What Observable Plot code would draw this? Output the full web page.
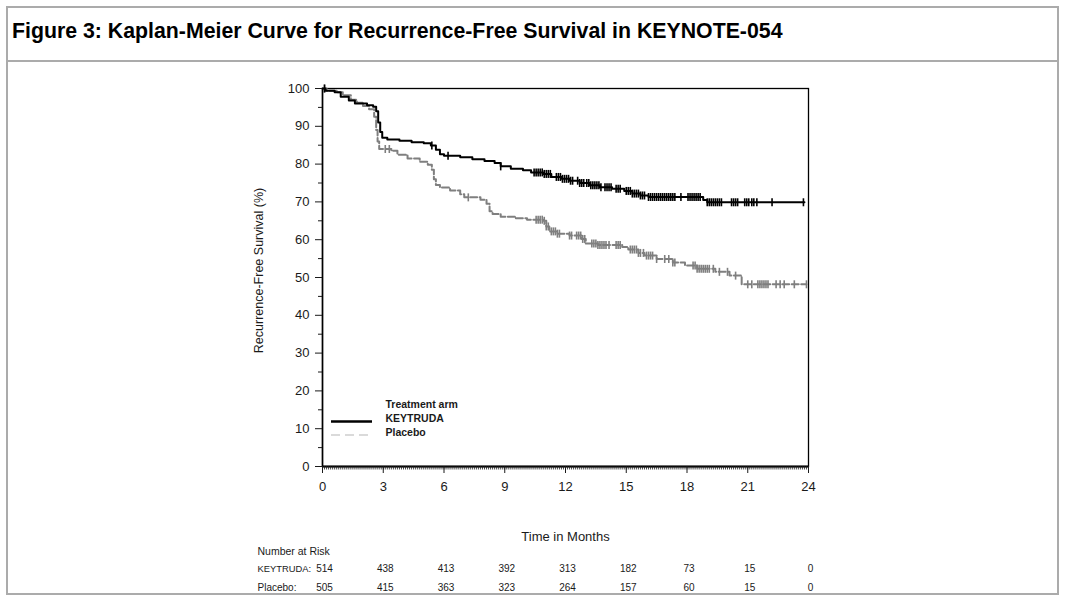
<!DOCTYPE html>
<html><head><meta charset="utf-8">
<script src="https://cdn.jsdelivr.net/npm/d3@7"></script>
<script src="https://cdn.jsdelivr.net/npm/@observablehq/plot@0.6"></script>
<style>
body{margin:0;width:1066px;height:596px;position:relative;background:#fff;font-family:"Liberation Sans",Arial,sans-serif;overflow:hidden}
#box{position:absolute;left:6px;top:6px;width:1053px;height:589px;border:2px solid #ababab;box-sizing:border-box}
#title{position:absolute;left:6px;top:6px;width:1053px;height:56px;border-bottom:2px solid #ababab;box-sizing:border-box;font-weight:bold;font-size:21.3px;padding:13px 0 0 6px;color:#000;white-space:nowrap}
#chart{position:absolute;left:0;top:60px}
#legend{position:absolute;left:0;top:0;pointer-events:none}
</style></head>
<body>
<div id="box"></div>
<div id="title">Figure 3: Kaplan-Meier Curve for Recurrence-Free Survival in KEYNOTE-054</div>
<div id="chart"></div>
<svg id="legend" width="1066" height="596">
  <line x1="331" x2="372" y1="421.5" y2="421.5" stroke="#000" stroke-width="2.6"/>
  <line x1="331" x2="372" y1="435" y2="435" stroke="#b5b5b5" stroke-width="1" stroke-dasharray="9,5"/>
</svg>
<script>
// ---- data ----
const keytrudaTimes = [0,0.15,0.6,0.9,1.3,1.6,2.2,2.5,2.65,2.75,2.85,2.95,3.2,3.8,4.4,5.0,5.35,5.6,5.8,6.0,6.8,7.4,8.0,8.5,8.8,9.3,9.9,10.3,10.9,11.3,11.8,12.2,12.7,13.2,13.7,14.3,14.9,15.3,15.7,16.1,18.8,19.0,23.8];
const keytrudaSurv  = [100,99.4,99.0,97.8,96.8,96.0,95.6,95.2,94.0,91.0,88.5,87.0,86.5,86.2,85.8,85.5,84.9,83.8,82.6,82.2,81.8,81.3,80.8,80.3,79.4,78.8,78.4,77.8,77.4,76.6,76.1,75.6,75.0,74.4,73.9,73.5,72.9,72.2,71.7,71.3,70.5,69.9,69.9];
const placeboTimes = [0,0.2,0.7,1.0,1.4,1.7,2.0,2.3,2.55,2.65,2.72,2.8,3.4,3.7,4.2,4.8,5.2,5.4,5.5,5.6,5.8,6.3,6.8,7.0,7.8,8.1,8.25,8.4,8.8,9.5,10.1,10.9,11.05,11.2,11.6,12.2,12.8,13.0,13.6,14.8,15.1,15.6,15.9,16.5,17.3,17.9,18.5,19.4,20.1,20.7,23.9];
const placeboSurv  = [100,99.4,99.0,98.2,97.0,96.2,95.4,94.5,92.5,89.0,86.0,84.0,83.5,82.5,81.5,80.6,79.8,78.5,76.0,74.5,73.8,73.0,72.0,71.2,70.6,69.5,67.5,66.8,66.1,65.7,65.3,65.0,63.5,62.2,61.6,61.1,60.2,59.0,58.6,58.1,57.4,56.5,55.8,54.9,54.0,53.2,52.3,51.5,50.5,48.2,48.2];
const keytrudaCensor = [0.1,5.4,6.2,8.8,10.45,10.55,10.65,10.75,10.85,10.95,11.05,11.15,11.25,11.55,11.65,11.75,11.85,11.95,12.05,12.15,12.25,12.35,12.6,12.7,12.8,12.9,13.05,13.15,13.25,13.35,13.45,13.55,13.65,13.75,13.95,14.05,14.15,14.25,14.5,14.6,14.7,15.0,15.1,15.2,15.3,15.4,15.5,15.6,15.7,15.8,15.9,16.1,16.2,16.3,16.4,16.5,16.6,16.7,16.8,16.9,17.0,17.1,17.2,17.3,17.4,17.7,18.05,18.15,18.25,18.35,18.45,18.55,18.65,19.0,19.1,19.2,19.3,19.4,19.5,19.6,19.7,20.2,20.3,20.4,20.5,20.85,20.95,21.05,21.2,21.3,21.45,22.2,23.75];
const placeboCensor = [0.1,3.1,3.3,7.2,10.55,10.65,10.75,10.85,10.95,11.05,11.15,11.3,11.4,11.5,11.6,11.7,12.2,12.3,12.55,12.65,12.75,12.85,12.95,13.3,13.4,13.5,13.6,13.7,13.8,13.9,14.0,14.15,14.5,14.6,14.7,15.2,15.3,15.4,15.5,15.6,15.7,15.85,16.0,16.1,16.2,16.3,16.5,16.9,17.1,17.3,17.4,18.3,18.4,18.5,18.6,18.7,18.8,18.9,19.0,19.1,19.3,19.6,20.0,20.4,21.0,21.2,21.5,21.6,21.7,21.8,21.9,22.0,22.4,22.6,22.8,23.3,23.9];
const riskTimes = [0,3,6,9,12,15,18,21,24];
const riskKeytruda = [514,438,413,392,313,182,73,15,0];
const riskPlacebo = [505,415,363,323,264,157,60,15,0];
const xTicks = [0,3,6,9,12,15,18,21,24];
const yTicks = [0,10,20,30,40,50,60,70,80,90,100];
const yMinorTicks = [5,15,25,35,45,55,65,75,85,95];
const xMinorTicks = d3.range(0, 241).map(i => i / 10);
const seriesNames = ["KEYTRUDA", "Placebo"];

// ---- build tables ----
const kData = keytrudaTimes.map((t, i) => ({t, s: keytrudaSurv[i]}));
const pData = placeboTimes.map((t, i) => ({t, s: placeboSurv[i]}));
function stepAt(times, surv, t) {
  let v = surv[0];
  for (let i = 0; i < times.length; i++) if (times[i] <= t) v = surv[i];
  return v;
}
const kCens = keytrudaCensor.map(t => ({t, s: stepAt(keytrudaTimes, keytrudaSurv, t)}));
const pCens = placeboCensor.map(t => ({t, s: stepAt(placeboTimes, placeboSurv, t)}));
const vbar = {draw(ctx, size) { const h = 4; ctx.moveTo(0, -h); ctx.lineTo(0, h); }};

const FONT = "Liberation Sans, Arial, sans-serif";
const chart = Plot.plot({
  width: 1066, height: 536,
  marginLeft: 322, marginRight: 258, marginTop: 28, marginBottom: 130,
  x: {domain: [0, 24]},
  y: {domain: [0, 100]},
  style: {background: "none", fontFamily: FONT, fontSize: "13px", color: "#1a1a1a", overflow: "visible"},
  marks: [
    Plot.frame({stroke: "#000", strokeWidth: 1.3}),
    Plot.line(pData, {x: "t", y: "s", curve: "step-after", stroke: "#7f7f7f", strokeWidth: 2, strokeDasharray: "7,2.5"}),
    Plot.dot(pCens, {x: "t", y: "s", symbol: vbar, fill: "none", stroke: "#7f7f7f", strokeWidth: 1.6}),
    Plot.line(kData, {x: "t", y: "s", curve: "step-after", stroke: "#000", strokeWidth: 2}),
    Plot.dot(kCens, {x: "t", y: "s", symbol: vbar, fill: "none", stroke: "#000", strokeWidth: 1.6}),
    Plot.ruleY([0], {stroke: "#000", strokeWidth: 2}),
    Plot.ruleX([0], {stroke: "#000", strokeWidth: 1.5}),
    Plot.axisY({ticks: yTicks, tickSize: 7, tickPadding: 6, label: null, fontSize: 13}),
    Plot.axisY({ticks: yMinorTicks, tickSize: 4, tickFormat: () => "", label: null}),
    Plot.axisX({ticks: xTicks, tickSize: 7, tickPadding: 8, label: null, fontSize: 13}),
    Plot.axisX({ticks: xMinorTicks, tickSize: 3.5, tickFormat: () => "", label: null, strokeWidth: 0.8}),
    Plot.text(["Time in Months"], {frameAnchor: "bottom", dy: 74, fontSize: 13}),
    Plot.text(["Recurrence-Free Survival (%)"], {frameAnchor: "left", dx: -64, dy: -7, rotate: -90, textAnchor: "middle", fontSize: 12.5}),
    // legend text
    Plot.text(["Treatment arm"], {frameAnchor: "bottom-left", dx: 63, dy: -59, textAnchor: "start", fontWeight: "bold", fontSize: 10.5}),
    Plot.text([seriesNames[0]], {frameAnchor: "bottom-left", dx: 63, dy: -45, textAnchor: "start", fontWeight: "bold", fontSize: 10.5}),
    Plot.text([seriesNames[1]], {frameAnchor: "bottom-left", dx: 63, dy: -31, textAnchor: "start", fontWeight: "bold", fontSize: 10.5}),
    // number at risk
    Plot.text(["Number at Risk"], {frameAnchor: "bottom-left", dx: -65, dy: 88, textAnchor: "start", fontSize: 10.5}),
    Plot.text([seriesNames[0] + ":"], {frameAnchor: "bottom-left", dx: -65, dy: 105, textAnchor: "start", fontSize: 9.4}),
    Plot.text([seriesNames[1] + ":"], {frameAnchor: "bottom-left", dx: -65, dy: 124, textAnchor: "start", fontSize: 10}),
    Plot.text(riskTimes, {x: d => d, text: (d, i) => String(riskKeytruda[i]), frameAnchor: "bottom", dx: 2, dy: 105, fontSize: 10}),
    Plot.text(riskTimes, {x: d => d, text: (d, i) => String(riskPlacebo[i]), frameAnchor: "bottom", dx: 2, dy: 124, fontSize: 10})
  ]
});
document.getElementById("chart").appendChild(chart);
</script>
</body></html>
